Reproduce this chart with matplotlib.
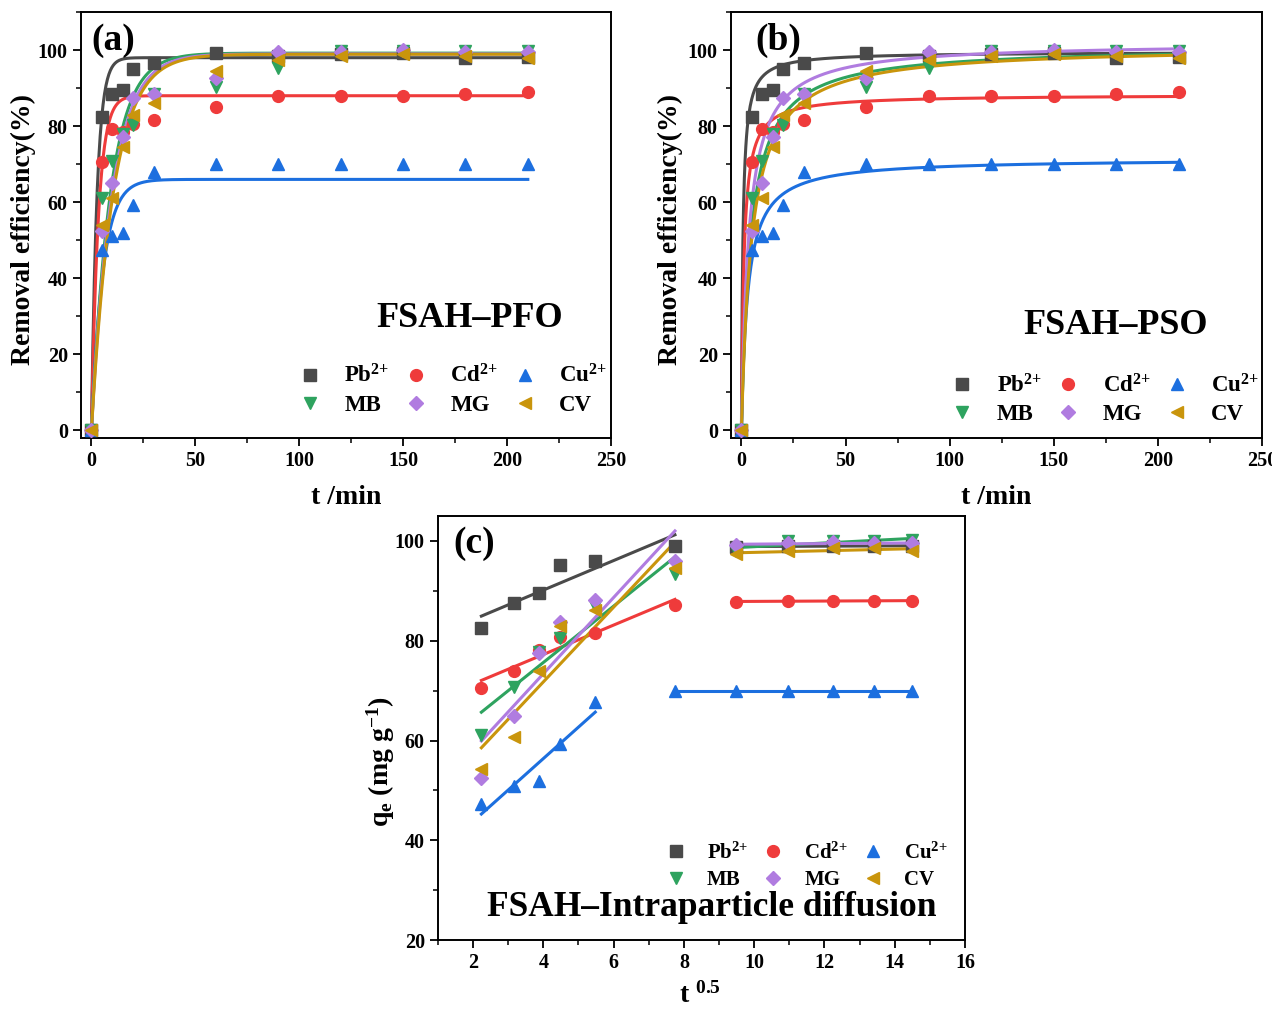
import numpy as np
import matplotlib.pyplot as plt
from matplotlib.ticker import MultipleLocator

plt.rcParams['font.family'] = ['Liberation Serif', 'DejaVu Serif']
plt.rcParams['font.weight'] = 'bold'
plt.rcParams['axes.labelweight'] = 'bold'
plt.rcParams['mathtext.fontset'] = 'custom'
plt.rcParams['mathtext.rm'] = 'Liberation Serif:bold'
plt.rcParams['mathtext.it'] = 'Liberation Serif:bold'
plt.rcParams['mathtext.bf'] = 'Liberation Serif:bold'

# contact time (min)
t = [0, 5, 10, 15, 20, 30, 60, 90, 120, 150, 180, 210]

# removal efficiency (%)
pb = [0, 82.5, 88.5, 89.5, 95.0, 96.5, 99.2, 98.5, 99.0, 99.2, 97.9, 98.3]
cd = [0, 70.5, 79.2, 78.5, 80.5, 81.5, 85.1, 87.8, 88.0, 88.0, 88.4, 88.9]
cu = [0, 47.5, 51.2, 52.0, 59.4, 67.9, 70.0, 70.0, 70.0, 70.0, 70.1, 70.0]
mb = [0, 61.2, 70.8, 78.0, 80.4, 88.5, 90.3, 95.2, 99.8, 99.8, 99.8, 99.8]
mg = [0, 52.5, 65.0, 77.2, 87.5, 88.5, 92.6, 99.5, 99.5, 100.0, 99.5, 99.5]
cv = [0, 54.0, 61.0, 74.5, 83.0, 86.2, 94.5, 97.5, 98.5, 99.0, 98.5, 98.0]

# qe for intraparticle diffusion plot (t > 0)
pb_q = [82.5, 87.5, 89.5, 95.2, 96.0, 99.0, 98.8, 99.0, 99.0, 99.0, 99.0]
cd_q = [70.5, 74.0, 78.2, 80.8, 81.5, 87.2, 87.8, 88.0, 88.0, 88.0, 88.0]
cu_q = [47.3, 50.9, 51.8, 59.3, 67.7, 70.0, 70.0, 70.0, 70.0, 70.0, 70.0]
mb_q = [61.2, 70.8, 77.8, 80.5, 87.0, 93.3, 98.0, 100.0, 100.0, 100.0, 100.2]
mg_q = [52.5, 65.0, 77.5, 83.8, 88.2, 96.0, 99.2, 99.5, 99.7, 99.5, 99.5]
cv_q = [54.2, 60.8, 74.0, 83.0, 86.2, 94.5, 97.3, 98.0, 98.5, 98.5, 98.0]

# fitted parameters
pfo_qe = [98.0, 88.0, 66.0, 99.2, 99.0, 98.9]
pfo_k = [0.37, 0.30, 0.18, 0.108, 0.10, 0.095]
pso_qe = [99.5, 88.3, 71.5, 101.0, 102.0, 101.0]
pso_k = [0.0143, 0.00944, 0.00466, 0.00225, 0.0028, 0.00198]
# number of points in first stage of intraparticle diffusion
stage1_n = [6, 6, 5, 6, 6, 6]

names = ['Pb$^{2{+}}$', 'Cd$^{2{+}}$', 'Cu$^{2{+}}$', 'MB', 'MG', 'CV']
colors = ['#4a4a4a', '#ef3b3b', '#1c6fdf', '#2ea35f', '#b07ce0', '#c9950c']
markers = ['s', 'o', '^', 'v', 'D', '<']
msizes = [8, 8.5, 9, 9, 7, 9]

removal = [pb, cd, cu, mb, mg, cv]
qdata = [pb_q, cd_q, cu_q, mb_q, mg_q, cv_q]

fig = plt.figure(figsize=(12.72, 10.13), dpi=100)
ax1 = fig.add_axes([0.0637, 0.5676, 0.4166, 0.4205])
ax2 = fig.add_axes([0.5747, 0.5676, 0.4173, 0.4205])
ax3 = fig.add_axes([0.3443, 0.072, 0.4143, 0.4186])

order = [0, 3, 1, 4, 2, 5]


def style(ax):
    ax.tick_params(which='major', direction='out', length=6, width=1.3, labelsize=14.5)
    ax.tick_params(which='minor', direction='out', length=3.5, width=1.1)
    for s in ax.spines.values():
        s.set_linewidth(1.4)


def add_legend(ax, handles, anchor, fs=16.5, cs=0.55):
    hs = [handles[i] for i in order]
    ax.legend(hs, [h.get_label() for h in hs], ncol=3, loc='lower right',
              bbox_to_anchor=anchor, frameon=False, fontsize=fs,
              handletextpad=0.9, columnspacing=cs, labelspacing=0.3,
              handlelength=1.2, borderaxespad=0, borderpad=0)


tt = np.linspace(0, 210, 600)
tx = np.array(t, dtype=float)

# (a) pseudo-first-order
handles = []
for i in range(6):
    qe, k = pfo_qe[i], pfo_k[i]
    ax1.plot(tt, qe * (1 - np.exp(-k * tt)), color=colors[i], lw=2.2, zorder=2)
for i in range(6):
    h, = ax1.plot(t, removal[i], ls='none', marker=markers[i], ms=msizes[i],
                  color=colors[i], label=names[i], zorder=3)
    handles.append(h)
ax1.set_xlim(-5, 250)
ax1.set_ylim(-2, 110)
ax1.set_yticks(range(0, 101, 20))
ax1.xaxis.set_minor_locator(MultipleLocator(25))
ax1.yaxis.set_minor_locator(MultipleLocator(10))
style(ax1)
ax1.set_xlabel('t /min', fontsize=20)
ax1.set_ylabel('Removal efficiency(%)', fontsize=20)
ax1.xaxis.set_label_coords(0.5, -0.11)
ax1.yaxis.set_label_coords(-0.085, 0.49)
ax1.text(0.02, 0.934, '(a)', transform=ax1.transAxes, fontsize=27, va='center')
ax1.text(182, 29.5, 'FSAH\u2013PFO', fontsize=26, ha='center', va='center')
add_legend(ax1, handles, (0.992, 0.052))

# (b) pseudo-second-order
handles = []
for i in range(6):
    qe, k = pso_qe[i], pso_k[i]
    ax2.plot(tt, qe * qe * k * tt / (1 + qe * k * tt), color=colors[i], lw=2.2, zorder=2)
for i in range(6):
    h, = ax2.plot(t, removal[i], ls='none', marker=markers[i], ms=msizes[i],
                  color=colors[i], label=names[i], zorder=3)
    handles.append(h)
ax2.set_xlim(-5, 250)
ax2.set_ylim(-2, 110)
ax2.set_yticks(range(0, 101, 20))
ax2.xaxis.set_minor_locator(MultipleLocator(25))
ax2.yaxis.set_minor_locator(MultipleLocator(10))
style(ax2)
ax2.set_xlabel('t /min', fontsize=20)
ax2.set_ylabel('Removal efficiency(%)', fontsize=20)
ax2.xaxis.set_label_coords(0.5, -0.11)
ax2.yaxis.set_label_coords(-0.09, 0.49)
ax2.text(0.045, 0.934, '(b)', transform=ax2.transAxes, fontsize=27, va='center')
ax2.text(180, 27.7, 'FSAH\u2013PSO', fontsize=26, ha='center', va='center')
add_legend(ax2, handles, (0.995, 0.03))

# (c) intraparticle diffusion
sq = np.sqrt(tx[1:])
handles = []
for i in range(6):
    y = np.array(qdata[i])
    n = stage1_n[i]
    x1, y1 = sq[:n], y[:n]
    p1 = np.polyfit(x1, y1, 1)
    ax3.plot(x1[[0, -1]], np.polyval(p1, x1[[0, -1]]), color=colors[i], lw=2.2, zorder=2)
    ax3.plot(x1, y1, ls='none', marker=markers[i], ms=msizes[i], color=colors[i], zorder=3)
    x2, y2 = sq[n:], y[n:]
    p2 = np.polyfit(x2, y2, 1)
    ax3.plot(x2, np.polyval(p2, x2), color=colors[i], lw=2.2, zorder=2)
    h, = ax3.plot(x2, y2, ls='none', marker=markers[i], ms=msizes[i],
                  color=colors[i], label=names[i], zorder=3)
    handles.append(h)
ax3.set_xlim(1, 16)
ax3.set_ylim(20, 105)
ax3.set_xticks(range(2, 17, 2))
ax3.set_yticks(range(20, 101, 20))
ax3.xaxis.set_minor_locator(MultipleLocator(1))
ax3.yaxis.set_minor_locator(MultipleLocator(10))
style(ax3)
ax3.set_xlabel('t $^{0.5}$', fontsize=20)
ax3.set_ylabel('q$_{\\mathrm{e}}$ (mg g$^{\\mathrm{-1}}$)', fontsize=20)
ax3.xaxis.set_label_coords(0.497, -0.1)
ax3.yaxis.set_label_coords(-0.078, 0.42)
ax3.text(0.03, 0.936, '(c)', transform=ax3.transAxes, fontsize=27, va='center')
ax3.text(8.8, 26.6, 'FSAH\u2013Intraparticle diffusion', fontsize=25.5, ha='center', va='center')
add_legend(ax3, handles, (0.968, 0.118), fs=15, cs=0.6)

fig.savefig('out.png', dpi=100)
